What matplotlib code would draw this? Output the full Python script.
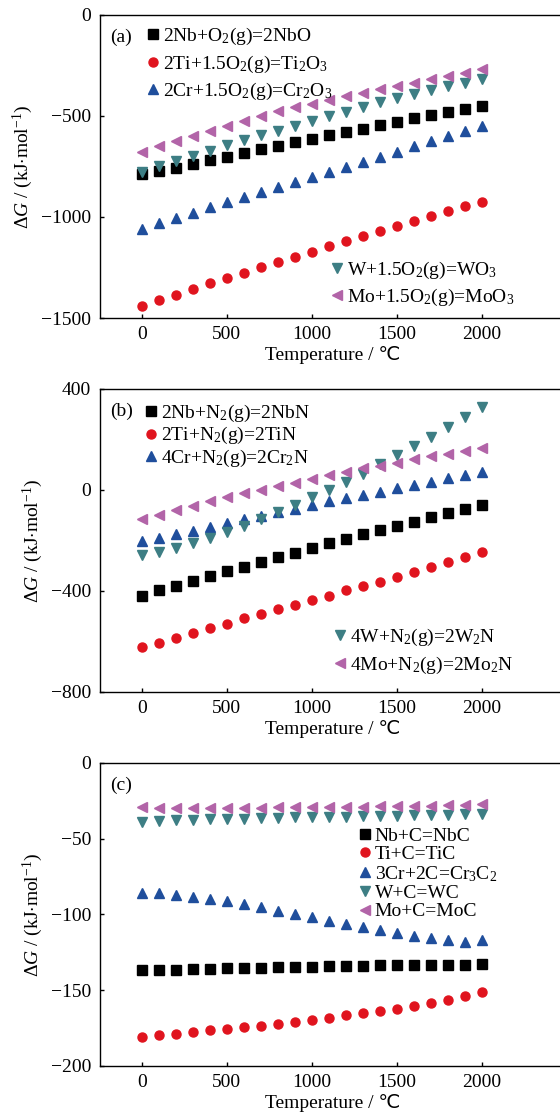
import numpy as np
import matplotlib
matplotlib.use('Agg')
import matplotlib.pyplot as plt

plt.rcParams['font.family'] = ['Liberation Serif', 'DejaVu Sans']
plt.rcParams['mathtext.fontset'] = 'custom'
plt.rcParams['mathtext.rm'] = 'Liberation Serif'
plt.rcParams['mathtext.it'] = 'Liberation Serif:italic'
plt.rcParams['font.size'] = 14

# temperatura (C)
temp = [0, 100, 200, 300, 400, 500, 600, 700, 800, 900, 1000,
        1100, 1200, 1300, 1400, 1500, 1600, 1700, 1800, 1900, 2000]

# (a) oxidos
ox_nb = [-789, -774, -756, -736, -719, -701, -683, -665, -648, -630, -614,
         -596, -579, -563, -546, -530, -512, -495, -479, -464, -450]
ox_ti = [-1441, -1413, -1384, -1356, -1328, -1302, -1276, -1248, -1223, -1196, -1172,
         -1145, -1120, -1094, -1069, -1045, -1020, -995, -970, -947, -924]
ox_cr = [-1058, -1030, -1003, -979, -952, -926, -899, -875, -850, -825, -800,
         -776, -751, -726, -701, -677, -650, -625, -601, -576, -551]
ox_w = [-776, -748, -723, -698, -673, -645, -620, -596, -573, -548, -525,
        -500, -479, -454, -431, -409, -389, -370, -351, -335, -315]
ox_mo = [-677, -649, -624, -597, -574, -550, -525, -500, -477, -457, -439,
         -421, -403, -386, -368, -351, -335, -318, -302, -285, -269]

# (b) nitruros
ni_nb = [-418, -398, -379, -361, -341, -322, -304, -285, -267, -248, -231,
         -212, -195, -176, -159, -142, -126, -109, -93, -77, -61]
ni_ti = [-623, -605, -585, -566, -548, -529, -509, -492, -473, -455, -436,
         -418, -398, -381, -363, -344, -326, -306, -286, -265, -244]
ni_cr = [-204, -191, -174, -161, -145, -130, -115, -102, -89, -74, -60,
         -45, -32, -19, -7, 8, 21, 33, 46, 58, 73]
ni_w = [-257, -244, -229, -210, -192, -168, -142, -115, -89, -60, -29,
        1, 31, 65, 101, 137, 174, 211, 249, 288, 328]
ni_mo = [-115, -98, -80, -62, -45, -28, -13, 1, 17, 29, 45,
         60, 73, 86, 95, 107, 122, 133, 143, 155, 166]

# (c) carburos
ca_nb = [-137, -136.7, -136.4, -136.2, -135.9, -135.6, -135.4, -135.1, -134.9, -134.7, -134.5,
         -134.3, -134.1, -133.9, -133.7, -133.6, -133.4, -133.3, -133.2, -133.1, -133.0]
ca_ti = [-181, -179.7, -178.8, -177.7, -176.6, -175.7, -174.6, -173.5, -172.4, -171.3, -169.8,
         -168.5, -166.7, -165.2, -163.6, -162.1, -160.3, -158.5, -156.3, -153.9, -151.3]
ca_cr = [-85.6, -86, -86.9, -88.2, -89.7, -91.3, -93.3, -95.3, -97.5, -99.7, -101.9,
         -104.1, -106.3, -108.5, -110.5, -112.2, -114, -115.8, -117.1, -118.2, -116.9]
ca_w = [-39, -38.5, -38, -37.6, -37.3, -37, -36.7, -36.4, -36.2, -36, -35.8,
        -35.6, -35.4, -35.2, -35, -34.8, -34.6, -34.4, -34.2, -34, -33.7]
ca_mo = [-29.3, -29.5, -29.6, -29.6, -29.6, -29.6, -29.5, -29.5, -29.4, -29.3, -29.2,
         -29.1, -29.0, -28.9, -28.7, -28.6, -28.4, -28.2, -27.9, -27.6, -27.2]

lab_a = [r'2Nb+O$_\mathregular{2}$(g)=2NbO',
         r'2Ti+1.5O$_\mathregular{2}$(g)=Ti$_\mathregular{2}$O$_\mathregular{3}$',
         r'2Cr+1.5O$_\mathregular{2}$(g)=Cr$_\mathregular{2}$O$_\mathregular{3}$',
         r'W+1.5O$_\mathregular{2}$(g)=WO$_\mathregular{3}$',
         r'Mo+1.5O$_\mathregular{2}$(g)=MoO$_\mathregular{3}$']
lab_b = [r'2Nb+N$_\mathregular{2}$(g)=2NbN',
         r'2Ti+N$_\mathregular{2}$(g)=2TiN',
         r'4Cr+N$_\mathregular{2}$(g)=2Cr$_\mathregular{2}$N',
         r'4W+N$_\mathregular{2}$(g)=2W$_\mathregular{2}$N',
         r'4Mo+N$_\mathregular{2}$(g)=2Mo$_\mathregular{2}$N']
lab_c = ['Nb+C=NbC', 'Ti+C=TiC',
         r'3Cr+2C=Cr$_\mathregular{3}$C$_\mathregular{2}$',
         'W+C=WC', 'Mo+C=MoC']

marcas = ['s', 'o', '^', 'v', '<']
colores = ['black', '#e0141e', '#1f4e9c', '#3d7e84', '#b264a8']

fig = plt.figure(figsize=(5.6, 11.17), dpi=100)
izq = 0.1777
ancho = 0.834
alto = 0.2713
ax_a = fig.add_axes([izq, 0.7153, ancho, alto])
ax_b = fig.add_axes([izq, 0.3805, ancho, alto])
ax_c = fig.add_axes([izq, 0.0457, ancho, alto])

opc = dict(frameon=False, handlelength=0.6, handletextpad=0.2, borderpad=0, fontsize=14)

def panel(ax, series, etiquetas, ylim, yticks, letra):
    lineas = []
    for y, m, c, l in zip(series, marcas, colores, etiquetas):
        ln, = ax.plot(temp, y, ls='none', marker=m, color=c, ms=6.5, label=l)
        lineas.append(ln)
    ax.set_xlim(-250, 2500)
    ax.set_ylim(*ylim)
    ax.set_yticks(yticks)
    ax.set_xticks([0, 500, 1000, 1500, 2000])
    ax.tick_params(direction='in', length=3, width=1, labelsize=14, pad=6)
    ax.set_xlabel('Temperature / ℃', fontsize=14, labelpad=2)
    ax.set_ylabel(r'$\Delta\mathit{G}$ / (kJ$\cdot$mol$^{\mathregular{-1}}$)', fontsize=14, labelpad=4)
    ax.text(0.022, 0.955, letra, transform=ax.transAxes, fontsize=14, va='top')
    for s in ax.spines.values():
        s.set_linewidth(1)
    return lineas

la = panel(ax_a, [ox_nb, ox_ti, ox_cr, ox_w, ox_mo], lab_a, (-1500, 0), [0, -500, -1000, -1500], '(a)')
l1 = ax_a.legend(handles=la[:3], loc='upper left', bbox_to_anchor=(0.082, 0.995),
                 labelspacing=0.32, **opc)
ax_a.add_artist(l1)
ax_a.legend(handles=la[3:], loc='lower left', bbox_to_anchor=(0.475, 0.0), labelspacing=0.3, **opc)

lb = panel(ax_b, [ni_nb, ni_ti, ni_cr, ni_w, ni_mo], lab_b, (-800, 400), [400, 0, -400, -800], '(b)')
l2 = ax_b.legend(handles=lb[:3], loc='upper left', bbox_to_anchor=(0.077, 0.985), labelspacing=0.05, **opc)
ax_b.add_artist(l2)
ax_b.legend(handles=lb[3:], loc='lower left', bbox_to_anchor=(0.482, 0.02), labelspacing=0.35, **opc)

lc = panel(ax_c, [ca_nb, ca_ti, ca_cr, ca_w, ca_mo], lab_c, (-200, 0), [0, -50, -100, -150, -200], '(c)')
ax_c.legend(handles=lc, loc='upper left', bbox_to_anchor=(0.535, 0.82), labelspacing=0.04, **opc)

fig.savefig('out.png', dpi=100)
